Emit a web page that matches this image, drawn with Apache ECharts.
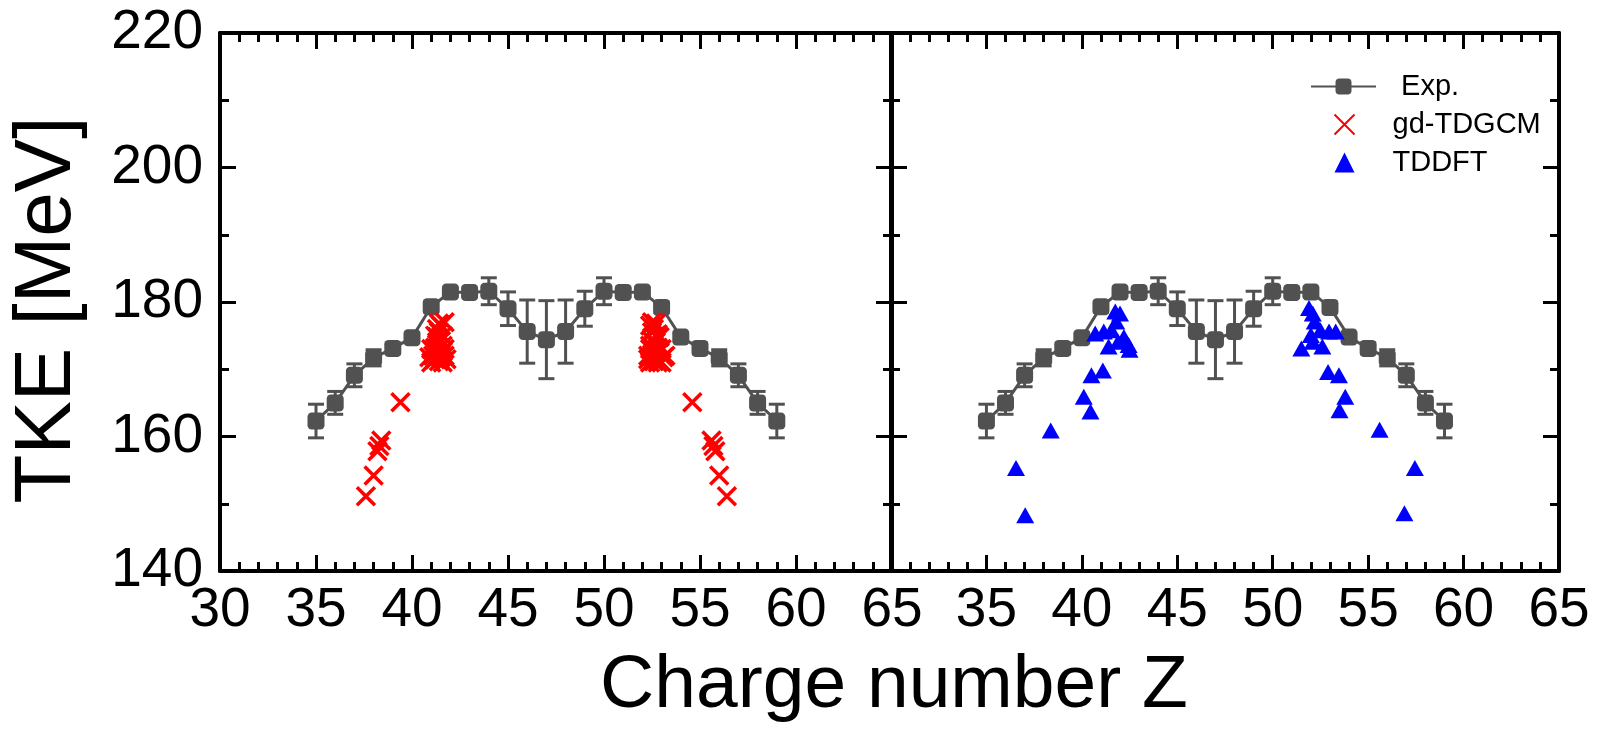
<!DOCTYPE html>
<html>
<head>
<meta charset="utf-8">
<script src="https://cdn.jsdelivr.net/npm/echarts@6/dist/echarts.min.js"></script>
<style>html,body{margin:0;padding:0;background:#fff}#c{width:1600px;height:743px}</style>
</head>
<body>
<div id="c"></div>
<script>
// Experimental data (Z, TKE, error)
const expZ   = [35,36,37,38,39,40,41,42,43,44,45,46,47,48,49,50,51,52,53,54,55,56,57,58,59];
const expTKE = [162.3,165.0,169.1,171.7,173.1,174.7,179.3,181.5,181.4,181.6,179.0,175.6,174.4,175.6,179.0,181.6,181.4,181.5,179.2,174.8,173.1,171.7,169.1,165.0,162.3];
const expErr = [2.5,1.7,1.7,1.2,0.8,0.6,0.8,0.6,0.6,2.0,2.5,4.7,5.8,4.7,2.6,2.0,0.6,0.6,0.8,0.6,0.8,1.2,1.7,1.7,2.5];

// gd-TDGCM (left panel)
const gdZ   = [37.6,38.0,38.2,38.3,38.4,39.4,
  40.9,41.0,41.1,41.2,41.3,41.4,41.5,41.6,41.7,41.8,41.0,41.2,41.4,41.6,41.1,41.3,41.5,41.7,41.2,41.4,41.6,41.3,41.5,41.4,41.6,41.7,41.3,41.5,
  52.3,52.4,52.5,52.6,52.7,52.8,52.9,53.0,53.1,53.2,52.4,52.6,52.8,53.0,52.3,52.5,52.7,52.9,52.5,52.7,52.9,52.4,52.6,52.8,52.5,52.7,52.6,52.4,52.8,52.6,
  54.6,55.6,55.7,55.8,56.0,56.4];
const gdTKE = [151.1,154.2,157.8,158.6,159.4,165.1,
  171.8,171.0,172.8,171.5,172.5,171.2,172.2,171.0,172.0,171.5,173.0,173.2,173.0,173.5,172.0,174.0,174.2,173.0,175.0,175.5,175.0,176.0,176.5,176.8,172.6,177.0,174.8,171.8,
  171.5,171.0,172.2,171.2,172.5,171.5,172.8,171.0,171.8,172.0,173.5,173.0,173.2,173.0,172.0,174.2,174.0,172.6,175.5,175.0,174.8,176.5,176.0,175.2,177.0,176.8,171.8,173.0,171.0,172.6,
  165.1,159.4,158.6,157.8,154.2,151.1];

// TDDFT (right panel)
const tdZ   = [36.55,37.03,38.37,40.1,40.45,40.5,41.1,40.7,41.15,41.56,41.4,41.9,42.45,42.2,41.75,42.0,41.8,42.5,
  57.45,56.9,55.6,53.8,53.5,53.47,52.9,53.3,52.95,52.5,52.1,51.9,51.5,52.1,52.6,52.0,52.2];
const tdTKE = [155.3,148.3,160.9,165.9,163.7,169.1,169.8,175.3,175.6,175.8,173.4,174.1,173.6,174.8,178.6,178.3,177.1,172.9,
  155.3,148.6,161.0,165.9,163.9,169.1,169.6,175.6,175.6,175.8,178.3,179.1,173.1,174.1,173.4,175.1,177.1];

// Axis ticks
const xMin = 30, xMax = 65, xStep = 5;
const yMin = 140, yMax = 220, yStep = 20;

const FONT = 'Liberation Sans, Arial, sans-serif';
const GRAY = '#515151';
const BLACK = '#000';

const expData = expZ.map((z, i) => [z, expTKE[i]]);
const errData = expZ.map((z, i) => [z, expTKE[i] - expErr[i], expTKE[i] + expErr[i]]);
const gdData = gdZ.map((z, i) => [z, gdTKE[i]]);
const tdData = tdZ.map((z, i) => [z, tdTKE[i]]);

function xAxisBase(grid, pos, labels, hideMin) {
  return {
    type: 'value', gridIndex: grid, position: pos, min: xMin, max: xMax, interval: xStep,
    axisLine: { show: true, onZero: false, lineStyle: { color: BLACK, width: 4 } },
    axisTick: { show: true, inside: true, length: 16, lineStyle: { color: BLACK, width: 3 } },
    minorTick: { show: true, splitNumber: 5, length: 9, lineStyle: { color: BLACK, width: 3 } },
    splitLine: { show: false },
    axisLabel: { show: labels, fontSize: 55, color: BLACK, fontFamily: FONT, margin: 12, showMinLabel: !hideMin }
  };
}
function yAxisBase(grid, pos, labels) {
  return {
    type: 'value', gridIndex: grid, position: pos, min: yMin, max: yMax, interval: yStep,
    axisLine: { show: true, onZero: false, lineStyle: { color: BLACK, width: 4 } },
    axisTick: { show: true, inside: true, length: 16, lineStyle: { color: BLACK, width: 3 } },
    minorTick: { show: true, splitNumber: 2, length: 9, lineStyle: { color: BLACK, width: 3 } },
    splitLine: { show: false },
    axisLabel: { show: labels, fontSize: 55, color: BLACK, fontFamily: FONT, margin: 17 }
  };
}

const errSeries = (xi, yi) => ({
  type: 'custom', xAxisIndex: xi, yAxisIndex: yi, data: errData, z: 2, silent: true,
  renderItem: function (params, api) {
    const x = api.value(0);
    const p1 = api.coord([x, api.value(1)]);
    const p2 = api.coord([x, api.value(2)]);
    const cw = 8;
    const st = { stroke: GRAY, lineWidth: 3 };
    return { type: 'group', children: [
      { type: 'line', shape: { x1: p1[0], y1: p1[1], x2: p2[0], y2: p2[1] }, style: st },
      { type: 'line', shape: { x1: p1[0] - cw, y1: p1[1], x2: p1[0] + cw, y2: p1[1] }, style: st },
      { type: 'line', shape: { x1: p2[0] - cw, y1: p2[1], x2: p2[0] + cw, y2: p2[1] }, style: st }
    ]};
  }
});
const expSeries = (xi, yi) => ({
  name: 'Exp.', type: 'line', xAxisIndex: xi, yAxisIndex: yi, data: expData, z: 3,
  symbol: 'roundRect', symbolSize: 17, showAllSymbol: true,
  lineStyle: { color: GRAY, width: 3 }, itemStyle: { color: GRAY, opacity: 1 }
});

const option = {
  animation: false,
  backgroundColor: '#fff',
  textStyle: { fontFamily: FONT },
  grid: [
    { left: 220, right: 708, top: 33, bottom: 172 },
    { left: 891, right: 41, top: 33, bottom: 172 }
  ],
  xAxis: [
    xAxisBase(0, 'bottom', true, false),
    xAxisBase(0, 'top', false, false),
    xAxisBase(1, 'bottom', true, true),
    xAxisBase(1, 'top', false, false)
  ],
  yAxis: [
    yAxisBase(0, 'left', true),
    yAxisBase(0, 'right', false),
    yAxisBase(1, 'left', false),
    yAxisBase(1, 'right', false)
  ],
  title: {
    text: 'Charge number Z', left: 889, textAlign: 'center', top: 644,
    textStyle: { fontSize: 75, fontWeight: 'normal', color: BLACK, fontFamily: FONT }
  },
  graphic: [{
    type: 'text', x: 48, y: 310, rotation: Math.PI / 2,
    style: { text: 'TKE [MeV]', fontSize: 80, fontFamily: FONT, fill: BLACK, align: 'center', verticalAlign: 'middle' }
  }],
  legend: [{
    orient: 'vertical', left: 1305, top: 67, itemWidth: 65, itemHeight: 20, itemGap: 9,
    data: ['Exp.'],
    formatter: n => '  ' + n,
    textStyle: { fontSize: 29, color: BLACK, fontFamily: FONT, padding: [0, 0, 0, 4] }
  }, {
    orient: 'vertical', left: 1327, top: 105, itemWidth: 20, itemHeight: 20, itemGap: 9,
    data: ['gd-TDGCM', 'TDDFT'],
    textStyle: { fontSize: 29, color: BLACK, fontFamily: FONT, padding: [0, 0, 0, 33] }
  }],
  series: [
    errSeries(0, 0), expSeries(0, 0),
    errSeries(2, 2), expSeries(2, 2),
    {
      name: 'gd-TDGCM', type: 'scatter', xAxisIndex: 0, yAxisIndex: 0, data: gdData, z: 4,
      symbol: 'path://M0 0L10 10M10 0L0 10', symbolSize: 18, symbolKeepAspect: true,
      itemStyle: { color: 'none', borderColor: '#ff0000', borderWidth: 3.5, opacity: 1 }
    },
    {
      name: 'TDDFT', type: 'scatter', xAxisIndex: 2, yAxisIndex: 2, data: tdData, z: 4,
      symbol: 'triangle', symbolSize: [18, 16],
      itemStyle: { color: '#0000ff', opacity: 1 }
    }
  ]
};
const chart = echarts.init(document.getElementById('c'), null, { renderer: 'canvas' });
chart.setOption(option);
</script>
</body>
</html>
